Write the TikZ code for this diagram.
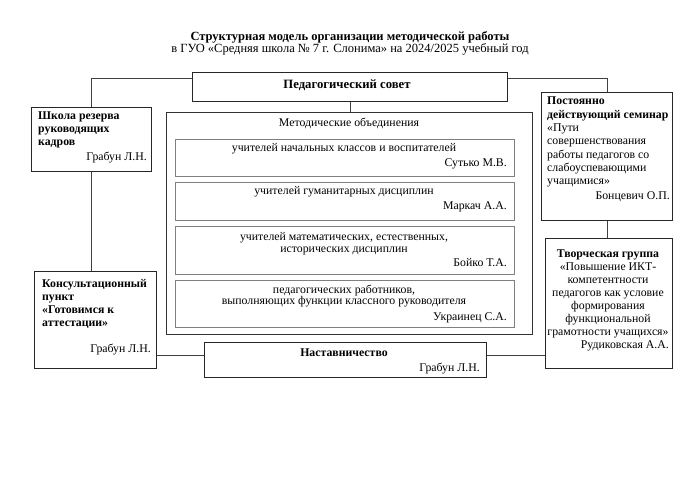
\documentclass[tikz,border=0pt]{standalone}
\usepackage{fontspec}
\setmainfont{Liberation Serif}
\begin{document}
\begin{tikzpicture}[x=1pt,y=-1pt, font=\fontsize{11.8}{13}\selectfont,
 box/.style={draw=black!85, line width=0.8pt, anchor=north west, inner sep=0pt},
 mobox/.style={draw=black!80, line width=1pt, anchor=north west, inner sep=0pt},
 inbox/.style={draw=black!50, line width=1.4pt, anchor=north west, inner sep=0pt},
 wire/.style={draw=black!75, line width=0.8pt},
 txt/.style={inner sep=0pt, anchor=base},
 ltxt/.style={inner sep=0pt, anchor=base west},
 rtxt/.style={inner sep=0pt, anchor=base east},
 bf/.style={font=\bfseries\fontsize{11.8}{13}\selectfont}]
\useasboundingbox (0,0) rectangle (700,494);
% title
\node[txt, font=\bfseries\fontsize{12.5}{14}\selectfont] (t1) at (350,41) {Структурная модель организации методической работы};
\node[txt, font=\fontsize{12.5}{14}\selectfont] (t2) at (350,52.5) {в ГУО «Средняя школа № 7 г. Слонима» на 2024/2025 учебный год};
% boxes
\node[box, minimum width=315pt, minimum height=29pt] (ps) at (192,72) {};
\node[box, minimum width=120pt, minimum height=64pt] (sch) at (31,107) {};
\node[box, minimum width=122pt, minimum height=97pt] (kon) at (34,271) {};
\node[mobox, minimum width=366pt, minimum height=222pt] (mo) at (166,112) {};
\node[inbox, minimum width=339pt, minimum height=37pt] (m1) at (175,139) {};
\node[inbox, minimum width=339pt, minimum height=38pt] (m2) at (175,182) {};
\node[inbox, minimum width=339pt, minimum height=48pt] (m3) at (175,226) {};
\node[inbox, minimum width=339pt, minimum height=47pt] (m4) at (175,280) {};
\node[box, minimum width=131pt, minimum height=128pt] (sem) at (541,92) {};
\node[box, minimum width=127pt, minimum height=130pt] (tv) at (545,238) {};
\node[box, minimum width=282pt, minimum height=35pt] (nas) at (204,342) {};
% connectors
\draw[wire] ([yshift=8.5pt]ps.west) -| (sch.north);
\draw[wire] ([yshift=8.5pt]ps.east) -| (sem.north);
\draw[wire] (ps.south) -- (ps.south |- mo.north);
\draw[wire] (sch.south) -- (sch.south |- kon.north);
\draw[wire] (sem.south) -- (sem.south |- tv.north);
\draw[wire] ([yshift=4.5pt]nas.west) -- ([yshift=4.5pt]nas.west -| kon.east);
\draw[wire] ([yshift=4.5pt]nas.east) -- ([yshift=4.5pt]nas.east -| tv.west);
% texts
\node[txt, font=\bfseries\fontsize{12.7}{14}\selectfont] (pst) at (347,89) {Педагогический совет};
\node[ltxt, bf] (sc1) at (38,120) {Школа резерва};
\node[ltxt, bf] (sc2) at (38,133) {руководящих};
\node[ltxt, bf] (sc3) at (38,146) {кадров};
\node[rtxt] (sc4) at (147,161) {Грабун Л.Н.};
\node[ltxt, bf] (k1) at (42,287) {Консультационный};
\node[ltxt, bf] (k2) at (42,300) {пункт};
\node[ltxt, bf] (k3) at (42,313) {«Готовимся к};
\node[ltxt, bf] (k4) at (42,326) {аттестации»};
\node[rtxt] (k5) at (151,352) {Грабун Л.Н.};
\node[txt] (mot) at (349,127) {Методические объединения};
\node[txt] (a1) at (344,152) {учителей начальных классов и воспитателей};
\node[rtxt] (a2) at (507,167) {Сутько М.В.};
\node[txt] (b1) at (344,194) {учителей гуманитарных дисциплин};
\node[rtxt] (b2) at (507,210) {Маркач А.А.};
\node[txt] (c1) at (344,240) {учителей математических, естественных,};
\node[txt] (c2) at (344,252) {исторических дисциплин};
\node[rtxt] (c3) at (507,266) {Бойко Т.А.};
\node[txt] (d1) at (344,293) {педагогических работников,};
\node[txt] (d2) at (344,304) {выполняющих функции классного руководителя};
\node[rtxt] (d3) at (507,320) {Украинец С.А.};
\node[ltxt, bf] (s1) at (547,105) {Постоянно};
\node[ltxt, bf] (s2) at (547,119) {действующий семинар};
\node[ltxt] (s3) at (547,132) {«Пути};
\node[ltxt] (s4) at (547,145) {совершенствования};
\node[ltxt] (s5) at (547,159) {работы педагогов со};
\node[ltxt] (s6) at (547,172) {слабоуспевающими};
\node[ltxt] (s7) at (547,185) {учащимися»};
\node[rtxt] (s8) at (670,200) {Бонцевич О.П.};
\node[txt, bf] (v1) at (608,257) {Творческая группа};
\node[txt] (v2) at (608,270) {«Повышение ИКТ-};
\node[txt] (v3) at (608,283) {компетентности};
\node[txt] (v4) at (608,296) {педагогов как условие};
\node[txt] (v5) at (608,309) {формирования};
\node[txt] (v6) at (608,322) {функциональной};
\node[txt] (v7) at (608,335) {грамотности учащихся»};
\node[rtxt] (v8) at (669,348) {Рудиковская А.А.};
\node[txt, bf] (n1) at (344,356) {Наставничество};
\node[rtxt] (n2) at (480,371) {Грабун Л.Н.};
\end{tikzpicture}
\end{document}
